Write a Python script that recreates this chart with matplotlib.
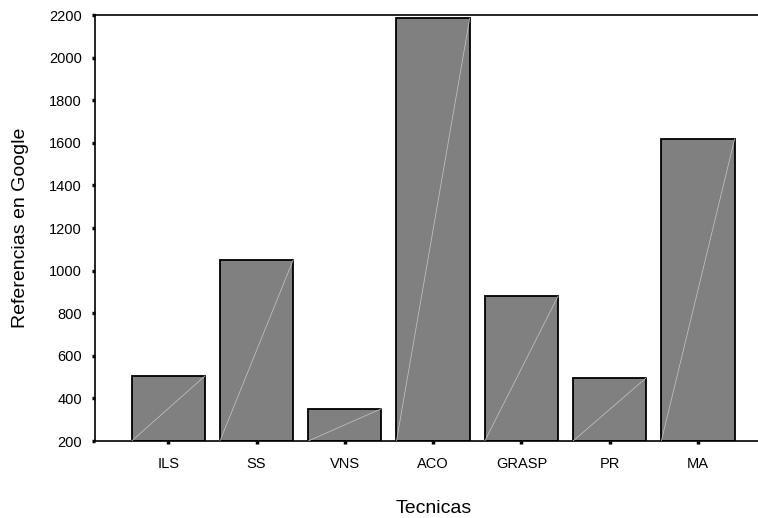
import matplotlib
matplotlib.use("Agg")
import matplotlib.pyplot as plt
import numpy as np

plt.rcParams['font.family'] = ['Liberation Sans', 'DejaVu Sans']

# data
tecnicas = ['ILS', 'SS', 'VNS', 'ACO', 'GRASP', 'PR', 'MA']
referencias = [505, 1050, 352, 2185, 880, 497, 1618]
y_ticks = [200, 400, 600, 800, 1000, 1200, 1400, 1600, 1800, 2000, 2200]

base = 200
width = 0.83

fig = plt.figure(figsize=(7.58, 5.18), dpi=100)
ax = fig.add_axes([0.1253, 0.1486, 0.8945, 0.8224])

x = np.arange(len(tecnicas))
heights = np.array(referencias) - base
ax.bar(x, heights, width=width, bottom=base, color='#808080',
       edgecolor='black', linewidth=1.3, zorder=2)

# thin light diagonal inside each bar (bottom-left to top-right)
for xi, val in zip(x, referencias):
    ax.plot([xi - width / 2, xi + width / 2], [base, val],
            color='#c8c8c8', linewidth=0.5, zorder=3)

ax.set_xlim(-0.83, 6.85)
ax.set_ylim(base, 2200)
ax.set_xticks(x)
ax.set_xticklabels(tecnicas)
ax.set_yticks(y_ticks)

ax.spines['right'].set_visible(False)
for s in ['left', 'top', 'bottom']:
    ax.spines[s].set_linewidth(1.2)

ax.tick_params(axis='both', direction='out', length=2.5, width=2.5,
               labelsize=10.5, colors='black')
ax.tick_params(axis='y', pad=7)
ax.tick_params(axis='x', pad=9)

ax.set_ylabel('Referencias en Google', fontsize=14, labelpad=14)
ax.set_xlabel('Tecnicas', fontsize=14, labelpad=21)

fig.savefig('out.png', dpi=100)
